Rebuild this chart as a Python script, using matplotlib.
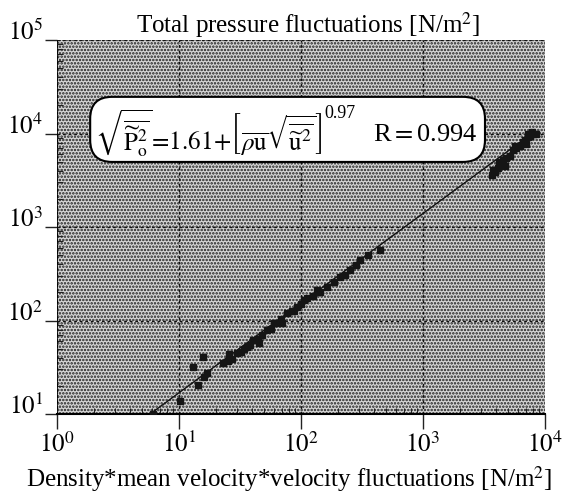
import matplotlib
matplotlib.use("Agg")
import matplotlib.pyplot as plt
from matplotlib.patches import Rectangle, FancyBboxPatch

plt.rcParams['font.family'] = ['Liberation Serif', 'DejaVu Serif']
plt.rcParams['mathtext.fontset'] = 'stix'
plt.rcParams['hatch.linewidth'] = 1.2
plt.rcParams['hatch.color'] = '#1e1e1e'

# measured points, read off the picture
# x: density*mean velocity*velocity fluctuations, y: total pressure fluctuations [N/m^2]
rho_u_u = [6.1, 10.2, 14.3, 17.0, 16.0, 13.0, 15.7, 25.7,
           22.9, 25.0, 27.0, 29.9, 32.0, 34.0, 36.1, 38.0, 40.4, 44.0, 45.0,
           48.0, 52.6, 57.0, 60.0, 63.6, 69.0, 70.0, 76.8, 84.0, 88.0, 92.7,
           100, 105, 112, 126, 135, 143, 163, 185, 209, 230, 252, 280, 305,
           354, 444]
p_fluct = [10.1, 13.8, 20.5, 27.5, 25.0, 31.8, 40.7, 43.8,
           35.1, 37.0, 39.0, 44.9, 46.0, 49.0, 52.1, 55.0, 61.8, 63.0, 58.0,
           70.0, 79.1, 82.0, 95.0, 94.0, 104, 95.0, 120, 127, 125, 139,
           150, 165, 174, 185, 210, 202, 228, 255, 292, 310, 347, 390, 444,
           502, 568]

# high-speed cluster
rho_u_u_hi = [3680, 3780, 3890, 4120, 4280, 4200, 4530, 4700, 4790, 5160,
              5470, 5790, 5680, 6240, 6600, 6860, 6990, 7250, 7530, 7980,
              8440, 7800, 7200]
p_fluct_hi = [3600, 4070, 3870, 4280, 4600, 4960, 5210, 4500, 5470, 5750,
              6670, 7000, 7350, 7350, 8110, 8520, 7720, 9180, 9400, 9880,
              10000, 10300, 9800]

# fitted line end points
fit_x = [5.8, 7800]
fit_y = [10, 10000]

x_ticks = [1, 10, 100, 1000, 10000]
x_labels = [r'$10^{0}$', r'$10^{1}$', r'$10^{2}$', r'$10^{3}$', r'$10^{4}$']
y_ticks = [10, 100, 1000, 10000, 100000]
y_labels = [r'$10^{1}$', r'$10^{2}$', r'$10^{3}$', r'$10^{4}$', r'$10^{5}$']

fig = plt.figure(figsize=(5.73, 4.96), dpi=100)
ax = fig.add_axes([57/573, 1-414/496, 488/573, 374/496])

ax.set_xscale('log')
ax.set_yscale('log')
ax.set_xlim(1, 10000)
ax.set_ylim(10, 100000)

# stippled background
ax.add_patch(Rectangle((0, 0), 1, 1, transform=ax.transAxes, facecolor='#d6d6d6',
                       hatch='.....', edgecolor='#1e1e1e', lw=0, zorder=0.2))
ax.set_axisbelow(True)
ax.grid(which='major', ls=(0, (2, 2)), color='#111111', lw=1.0)

ax.plot(fit_x, fit_y, color='#111111', lw=1.0, zorder=2)
ax.plot(rho_u_u, p_fluct, ls='', marker='s', ms=4, color='#151515', zorder=3)
ax.plot(rho_u_u_hi, p_fluct_hi, ls='', marker='s', ms=5, color='#151515', zorder=3)

ax.set_xticks(x_ticks, labels=x_labels)
ax.set_yticks(y_ticks, labels=y_labels)
ax.tick_params(axis='both', which='major', direction='out', labelsize=18,
               color='#222222', width=1.0)
ax.tick_params(axis='x', which='major', length=11, pad=2)
ax.tick_params(axis='y', which='major', length=9, pad=1)
ax.tick_params(axis='both', which='minor', direction='in', length=4,
               width=0.8, color='#222222')
ax.xaxis.set_minor_formatter(plt.NullFormatter())
ax.yaxis.set_minor_formatter(plt.NullFormatter())
for lab in ax.get_yticklabels():
    lab.set_va('baseline')

ax.spines['top'].set_visible(False)
ax.spines['right'].set_visible(False)
ax.spines['bottom'].set_linewidth(1.5)
ax.spines['left'].set_linewidth(0.6)

# equation box
box = FancyBboxPatch((0.068, 0.674), 0.809, 0.174, transform=ax.transAxes,
                     boxstyle='round,pad=0,rounding_size=0.045', mutation_aspect=1.3,
                     facecolor='white', edgecolor='black', lw=1.5, zorder=4)
ax.add_patch(box)
eq = (r'$\sqrt{\overline{\widetilde{\mathrm{P}}_{\mathrm{o}}^{2}}}\!=\!1.61\!+\!'
      r'\left[\overline{\rho\mathrm{u}}\sqrt{\overline{\widetilde{\mathrm{u}}^{2}}}\right]$')
eq_text = ax.text(0.078, 0.752, eq, transform=ax.transAxes, fontsize=18,
                  ha='left', va='center', zorder=5)
ax.annotate('0.97', xy=(1, 1), xycoords=eq_text, xytext=(1, 1),
            textcoords='offset points', ha='left', va='top', fontsize=13, zorder=5)
ax.text(0.862, 0.746, r'R$=$0.994', transform=ax.transAxes, fontsize=19,
        ha='right', va='center', zorder=5)

fig.text(308/573, 1-33/496, r'Total pressure fluctuations [N/m$^{2}$]',
         ha='center', va='baseline', fontsize=18)
fig.text(289/573, 1-487/496, r'Density*mean velocity*velocity fluctuations [N/m$^{2}$]',
         ha='center', va='baseline', fontsize=18)

fig.savefig('out.png', dpi=100)
